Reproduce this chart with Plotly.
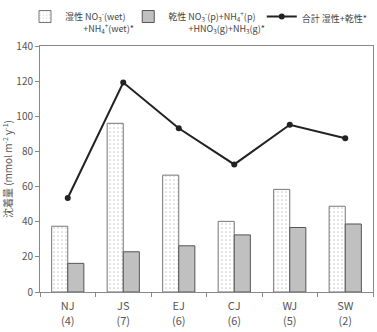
import plotly.graph_objects as go

categories = ["NJ", "JS", "EJ", "CJ", "WJ", "SW"]
counts = ["(4)", "(7)", "(6)", "(6)", "(5)", "(2)"]
wet = [37.4, 96.0, 66.5, 40.2, 58.4, 48.8]
dry = [16.3, 22.9, 26.3, 32.5, 36.7, 38.7]
total = [53.5, 119.2, 93.2, 72.6, 95.2, 87.5]

NB = "\u00a0"
name_wet = "湿性 NO<sub>3</sub><sup>-</sup>(wet)<br>" + NB * 9 + "+NH<sub>4</sub><sup>+</sup>(wet)*"
name_dry = "乾性 NO<sub>3</sub><sup>-</sup>(p)+NH<sub>4</sub><sup>+</sup>(p)<br>" + NB * 10 + "+HNO<sub>3</sub>(g)+NH<sub>3</sub>(g)*"
name_tot = "合計 湿性+乾性*"

xlabels = [f"{c}<br>{n}" for c, n in zip(categories, counts)]

FONT = "Noto Sans CJK JP, Noto Sans, sans-serif"

fig = go.Figure()
fig.add_trace(go.Bar(
    x=categories, y=wet, name=name_wet, showlegend=True,
    marker=dict(color="white", line=dict(color="#777777", width=1),
                pattern=dict(shape=".", fgcolor="#999999", bgcolor="white", size=4, solidity=0.15)),
    legend="legend",
))
fig.add_trace(go.Bar(
    x=categories, y=dry, name=name_dry, showlegend=True,
    marker=dict(color="#c0c0c0", line=dict(color="#555555", width=1)),
    legend="legend2",
))
fig.add_trace(go.Scatter(
    x=categories, y=total, name=name_tot, mode="lines+markers", showlegend=True,
    line=dict(color="#222222", width=2),
    marker=dict(color="#222222", size=6),
    legend="legend3",
))

W, H = 377, 332
leg_common = dict(yanchor="top", y=1.17,
                  xanchor="left", bgcolor="rgba(0,0,0,0)", borderwidth=0,
                  font=dict(size=9, color="#444444", family=FONT), valign="top",
                  itemwidth=30, tracegroupgap=0, orientation="h")

fig.update_layout(
    width=W, height=H, showlegend=True,
    margin=dict(l=40, r=4, t=44, b=40),
    paper_bgcolor="white", plot_bgcolor="white",
    font=dict(family=FONT, color="#555555", size=10),
    barmode="group", bargap=0.42, bargroupgap=0,
    legend=dict(x=-0.045, **leg_common),
    legend2=dict(x=0.265, **leg_common),
    legend3=dict(x=0.666, **leg_common),
    xaxis=dict(
        tickmode="array", tickvals=categories, ticktext=xlabels,
        tickson="boundaries", ticks="outside", ticklen=4, tickcolor="#888888",
        showline=True, linecolor="#888888", linewidth=1, mirror=True,
        showgrid=False, tickfont=dict(size=11, color="#555555"),
        ticklabelstandoff=4,
    ),
    yaxis=dict(
        range=[0, 140], dtick=20, ticks="outside", ticklen=4, tickcolor="#888888",
        showline=True, linecolor="#888888", linewidth=1, mirror=True,
        showgrid=False, zeroline=False, tickfont=dict(size=10, color="#555555"),
        title=dict(text="沈着量 (mmol m<sup>-2</sup> y<sup>-1</sup>)",
                   font=dict(size=10, color="#555555"), standoff=2),
    ),
)

fig.write_html("out.html")
